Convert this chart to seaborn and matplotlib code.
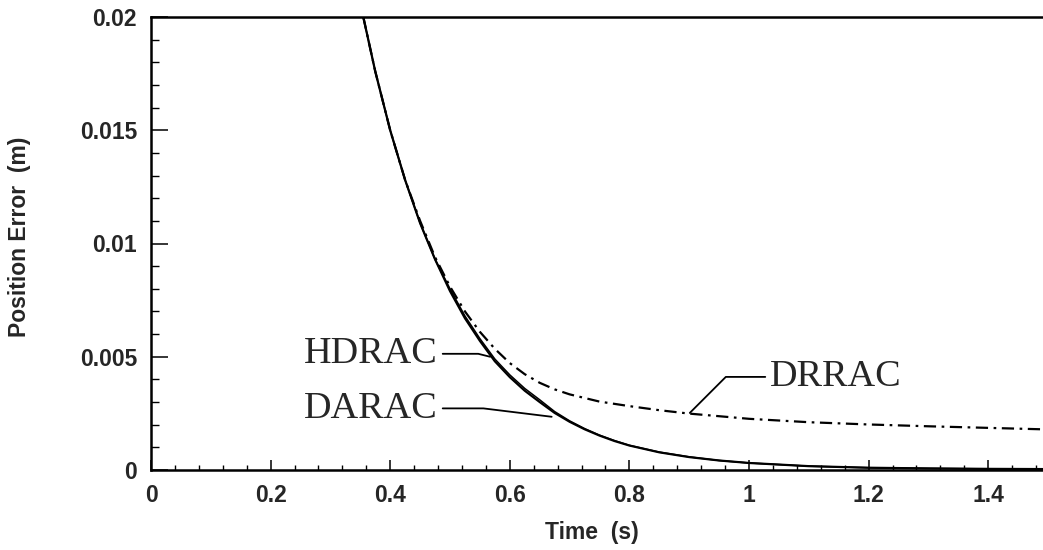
import matplotlib
matplotlib.use("Agg")
import matplotlib.pyplot as plt
import seaborn as sns
import pandas as pd
from matplotlib.ticker import MultipleLocator, FuncFormatter

# ---- data ----
t_darac = [0.355, 0.375, 0.40, 0.425, 0.45, 0.475, 0.50, 0.525, 0.55, 0.575, 0.60,
           0.625, 0.65, 0.675, 0.70, 0.725, 0.75, 0.775, 0.80, 0.85, 0.90, 0.95,
           1.00, 1.10, 1.20, 1.30, 1.40, 1.50]
darac = [0.0200, 0.0176, 0.0150, 0.0128, 0.0109, 0.0093, 0.0079, 0.0067, 0.0057,
         0.0048, 0.0041, 0.0035, 0.0030, 0.00252, 0.00213, 0.00180, 0.00152,
         0.00128, 0.00108, 0.00078, 0.00057, 0.00042, 0.00031, 0.00017, 0.00010,
         0.00007, 0.00005, 0.00004]
hdrac = [0.0200, 0.0176, 0.0150, 0.0128, 0.0109, 0.0093, 0.0080, 0.0068, 0.0058,
         0.0049, 0.0042, 0.0036, 0.0031, 0.00258, 0.00217, 0.00183, 0.00154,
         0.00130, 0.00109, 0.00079, 0.00058, 0.00042, 0.00031, 0.00017, 0.00010,
         0.00007, 0.00005, 0.00004]
t_drrac = [0.355, 0.375, 0.40, 0.425, 0.45, 0.475, 0.50, 0.525, 0.55, 0.575, 0.60,
           0.625, 0.65, 0.675, 0.70, 0.75, 0.80, 0.85, 0.90, 1.00, 1.10, 1.20,
           1.30, 1.40, 1.50]
drrac = [0.0200, 0.0176, 0.0150, 0.0128, 0.0110, 0.0094, 0.0081, 0.0070, 0.0061,
         0.00535, 0.00472, 0.00423, 0.00385, 0.00356, 0.00334, 0.00302, 0.00282,
         0.00264, 0.00249, 0.00226, 0.00211, 0.00201, 0.00193, 0.00186, 0.00179]

x_ticks = [0, 0.2, 0.4, 0.6, 0.8, 1.0, 1.2, 1.4]
y_ticks = [0, 0.005, 0.01, 0.015, 0.02]

df_darac = pd.DataFrame({"t": t_darac, "e": darac})
df_hdrac = pd.DataFrame({"t": t_darac, "e": hdrac})
df_drrac = pd.DataFrame({"t": t_drrac, "e": drrac})

sns.set_style("ticks")
plt.rcParams["font.family"] = ["Liberation Sans", "DejaVu Sans"]

fig = plt.figure(figsize=(10.43, 5.5), dpi=100)
ax = fig.add_axes([151 / 1043, 80 / 550, 897 / 1043, 453 / 550])

sns.lineplot(data=df_darac, x="t", y="e", ax=ax, color="black", lw=1.6)
sns.lineplot(data=df_hdrac, x="t", y="e", ax=ax, color="black", lw=1.1)
sns.lineplot(data=df_drrac, x="t", y="e", ax=ax, color="black", lw=1.6)
ax.lines[-1].set_dashes((5.5, 2.5, 1.2, 2.5))

ax.set_xlim(0, 1.5)
ax.set_ylim(0, 0.02)
ax.set_xticks(x_ticks)
ax.set_yticks(y_ticks)
ax.xaxis.set_minor_locator(MultipleLocator(0.04))
ax.yaxis.set_minor_locator(MultipleLocator(0.001))

fmt = FuncFormatter(lambda v, p: ("%g" % round(v, 4)))
ax.xaxis.set_major_formatter(fmt)
ax.yaxis.set_major_formatter(fmt)

for s in ax.spines.values():
    s.set_linewidth(1.8)
    s.set_color("black")

ax.tick_params(axis="both", which="both", direction="in", color="black",
               top=False, right=False)
ax.tick_params(axis="y", which="major", length=12, width=1.1, pad=10,
               labelsize=16.5)
ax.tick_params(axis="y", which="minor", length=6, width=1.0)
ax.tick_params(axis="x", which="major", length=7, width=1.1, pad=10,
               labelsize=16.5)
ax.tick_params(axis="x", which="minor", length=3.5, width=1.0)
for lab in ax.get_xticklabels() + ax.get_yticklabels():
    lab.set_fontweight("bold")

ax.set_xlabel("Time  (s)", fontsize=16.5, fontweight="bold")
ax.set_ylabel("Position Error  (m)", fontsize=16.5, fontweight="bold")
ax.xaxis.set_label_coords(0.492, -0.113)
ax.yaxis.set_label_coords(-0.134, 0.514)

serif = ["Liberation Serif", "DejaVu Serif"]
arrow = dict(arrowstyle="-", color="black", lw=1.3, shrinkA=1, shrinkB=0)
ax.annotate("HDRAC", xy=(0.567, 0.0050), xytext=(0.48, 0.00513),
            ha="right", va="center", fontsize=27.5, family=serif,
            arrowprops=dict(arrow, connectionstyle="angle,angleA=0,angleB=-14,rad=0"))
ax.annotate("DARAC", xy=(0.67, 0.00235), xytext=(0.48, 0.00272),
            ha="right", va="center", fontsize=27.5, family=serif,
            arrowprops=dict(arrow, connectionstyle="angle,angleA=0,angleB=-7,rad=0"))
ax.annotate("DRRAC", xy=(0.901, 0.00252), xytext=(1.035, 0.00411),
            ha="left", va="center", fontsize=27.5, family=serif,
            arrowprops=dict(arrow, connectionstyle="angle,angleA=0,angleB=45,rad=0"))

fig.savefig("out.png", dpi=100)
